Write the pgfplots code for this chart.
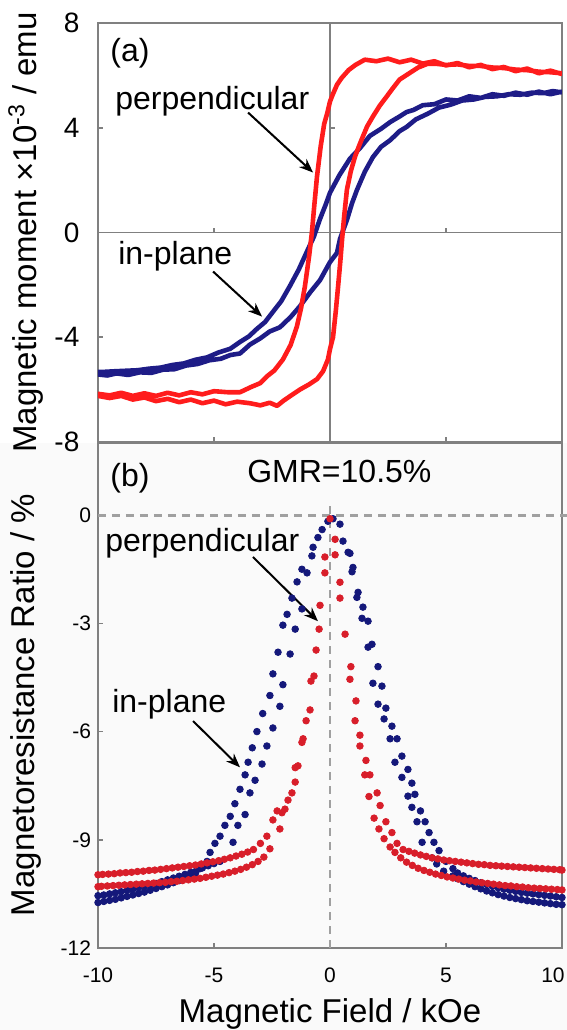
\documentclass[border=0pt]{standalone}
\usepackage{pgfplots}
\pgfplotsset{compat=1.18}
\usepackage{fontspec}
\setmainfont{Liberation Sans}
\usetikzlibrary{arrows.meta}

\definecolor{mred}{RGB}{255,28,28}
\definecolor{mblue}{RGB}{30,28,135}
\definecolor{rred}{RGB}{216,30,42}
\definecolor{rblue}{RGB}{20,24,122}
\definecolor{framegray}{RGB}{128,128,128}
\definecolor{dashgray}{RGB}{160,160,160}

\newcommand{\annfont}{\fontsize{16}{18}\selectfont}
\newcommand{\labfont}{\fontsize{16.5}{18}\selectfont}

\tikzset{
  callout/.style={black, line width=1pt, -{Stealth[length=7pt,width=5.5pt]}},
  ann/.style={inner sep=0pt, anchor=base west, font=\annfont},
  zeroline/.style={framegray, line width=0.8pt},
}

\begin{document}
\begin{tikzpicture}[x=1pt,y=1pt]
\useasboundingbox (0,0) rectangle (283.5,515);
% light background under the lower panel
\fill[black!2] (0,0) rectangle (283.5,293.5);

% ---------------- (a) magnetisation loops ----------------
\begin{axis}[
  at={(49pt,294pt)}, anchor=south west,
  width=232pt, height=209.5pt, scale only axis,
  xmin=-10, xmax=10, ymin=-8, ymax=8,
  axis line style={framegray, line width=0.8pt},
  xtick={-5,5}, xticklabels={},
  ytick={-8,-4,0,4,8},
  xtick pos=left, ytick pos=left,
  tick align=inside, major tick length=2.5pt,
  tick style={framegray, line width=0.8pt},
  /pgf/number format/assume math mode=true,
  yticklabel style={font=\fontsize{14}{16}\selectfont, xshift=-5.8pt},
  ylabel={Magnetic moment \texttimes10\textsuperscript{-3} / emu},
  ylabel style={at={(axis description cs:-0.155,0.5)}, anchor=center, font=\labfont},
]
% axes through the origin, with their own short ticks
\draw[zeroline] (axis cs:0,-8) -- (axis cs:0,8);
\draw[zeroline] (axis cs:-10,0) -- (axis cs:10,0);
\draw[zeroline] (axis cs:-5,0) -- (axis cs:-5,0.19);
\draw[zeroline] (axis cs:5,0) -- (axis cs:5,0.19);
\draw[zeroline] (axis cs:0,-4) -- (axis cs:0.215,-4);
\draw[zeroline] (axis cs:0,4) -- (axis cs:0.215,4);

% in-plane loop
\addplot[mblue, line width=2.3pt, line join=round, mark=none] table {
10.0 5.38
9.5 5.28
9.0 5.38
8.5 5.26
8.0 5.34
7.5 5.22
7.0 5.28
6.5 5.14
6.0 5.20
5.5 5.04
5.0 5.08
4.5 4.90
4.0 4.86
3.6 4.68
3.3 4.60
3.0 4.43
2.6 4.22
2.2 3.96
1.72 3.69
1.3 3.23
0.86 2.82
0.4 2.18
0.0 1.52
-0.2 1.03
-0.43 0.52
-0.7 -0.17
-1.0 -0.74
-1.35 -1.42
-1.72 -2.03
-2.1 -2.62
-2.46 -3.03
-2.8 -3.42
-3.15 -3.68
-3.5 -3.97
-3.88 -4.18
-4.3 -4.44
-4.8 -4.58
-5.3 -4.77
-5.8 -4.86
-6.3 -5.00
-6.8 -5.06
-7.3 -5.16
-7.8 -5.20
-8.3 -5.26
-8.8 -5.28
-9.3 -5.30
-9.7 -5.32
-10.0 -5.32
-10.0 -5.42
-9.6 -5.46
-9.2 -5.38
-8.7 -5.44
-8.2 -5.34
-7.7 -5.36
-7.2 -5.24
-6.7 -5.22
-6.2 -5.08
-5.7 -5.02
-5.2 -4.88
-4.7 -4.82
-4.3 -4.68
-3.88 -4.62
-3.45 -4.28
-3.0 -4.04
-2.6 -3.78
-2.16 -3.62
-1.7 -3.23
-1.3 -2.82
-0.85 -2.28
-0.43 -1.82
0.0 -1.13
0.3 -0.78
0.43 -0.25
0.73 0.48
0.95 1.12
1.16 1.62
1.5 2.32
1.85 2.88
2.2 3.27
2.6 3.53
3.0 3.87
3.3 4.03
3.7 4.32
4.2 4.53
4.7 4.77
5.2 4.88
5.7 5.04
6.2 5.08
6.7 5.18
7.2 5.20
7.7 5.28
8.2 5.26
8.7 5.34
9.2 5.32
9.6 5.40
10.0 5.35
};

% perpendicular loop
\addplot[mred, line width=2.3pt, line join=round, mark=none] table {
10.0 6.05
9.5 6.18
9.0 6.08
8.5 6.26
8.0 6.16
7.5 6.32
7.0 6.24
6.5 6.40
6.0 6.31
5.5 6.47
5.0 6.38
4.5 6.54
4.0 6.45
3.5 6.60
3.0 6.50
2.5 6.64
2.0 6.54
1.5 6.60
1.1 6.40
0.8 6.20
0.5 5.90
0.3 5.64
0.1 5.23
0.0 5.00
-0.12 4.55
-0.25 4.15
-0.4 3.30
-0.56 2.14
-0.68 1.00
-0.78 0.00
-0.9 -0.90
-1.08 -2.05
-1.25 -2.90
-1.43 -3.60
-1.7 -4.30
-2.03 -4.85
-2.4 -5.27
-2.7 -5.48
-3.0 -5.75
-3.4 -5.90
-3.88 -6.10
-4.4 -6.10
-5.0 -6.06
-5.5 -6.18
-6.0 -6.10
-6.5 -6.22
-7.0 -6.12
-7.5 -6.24
-8.0 -6.14
-8.5 -6.24
-9.0 -6.12
-9.5 -6.22
-10.0 -6.16
-10.0 -6.24
-9.5 -6.32
-9.0 -6.24
-8.5 -6.38
-8.0 -6.30
-7.5 -6.44
-7.0 -6.35
-6.5 -6.48
-6.0 -6.38
-5.5 -6.52
-5.0 -6.42
-4.5 -6.56
-4.0 -6.46
-3.45 -6.52
-3.0 -6.60
-2.6 -6.50
-2.28 -6.62
-2.0 -6.42
-1.72 -6.25
-1.3 -6.00
-0.9 -5.80
-0.56 -5.60
-0.3 -5.30
-0.09 -4.85
0.0 -4.45
0.13 -4.00
0.25 -3.00
0.35 -2.05
0.45 -1.05
0.52 -0.27
0.62 0.70
0.73 1.64
0.9 2.35
1.08 2.90
1.25 3.30
1.42 3.67
1.6 4.05
1.85 4.43
2.15 4.85
2.45 5.20
2.7 5.50
3.0 5.84
3.45 6.10
3.8 6.30
4.2 6.44
4.6 6.44
5.0 6.40
5.5 6.42
6.0 6.36
6.5 6.36
7.0 6.30
7.5 6.28
8.0 6.22
8.5 6.20
9.0 6.14
9.5 6.12
10.0 6.08
};

\node[ann] at (axis cs:-9.48,6.53) {(a)};
\node[ann] at (axis cs:-9.27,4.70) {perpendicular};
\draw[callout] (axis cs:-3.53,4.58) -- (axis cs:-0.73,2.29);
\node[ann] at (axis cs:-9.14,-1.22) {in-plane};
\draw[callout] (axis cs:-5.04,-1.49) -- (axis cs:-2.93,-3.21);
\end{axis}

% ---------------- (b) magnetoresistance ----------------
\begin{axis}[
  at={(49pt,41pt)}, anchor=south west,
  width=232pt, height=252.5pt, scale only axis,
  clip=false,
  xmin=-10, xmax=10, ymin=-12, ymax=2,
  axis line style={framegray, line width=0.8pt},
  xtick={-10,-5,0,5},
  extra x ticks={10},
  extra x tick style={xticklabel style={xshift=-4.5pt}},
  ytick={-12,-9,-6,-3,0},
  xtick pos=left, ytick pos=left,
  tick align=inside, major tick length=2.5pt,
  tick style={framegray, line width=0.8pt},
  /pgf/number format/assume math mode=true,
  ticklabel style={font=\fontsize{10.5}{12}\selectfont},
  xticklabel style={anchor=base, yshift=-17pt},
  xlabel={Magnetic Field / kOe},
  xlabel style={at={(axis description cs:0.5,0)}, anchor=base, yshift=-37pt, font=\labfont},
  ylabel={Magnetoresistance Ratio / \%},
  ylabel style={at={(axis description cs:-0.155,0.481)}, anchor=center, font=\labfont},
]
\draw[dashgray, line width=1.4pt, dash pattern=on 4pt off 3pt] (axis cs:-10,0) -- (axis cs:10.45,0);
\draw[dashgray, line width=1.4pt, dash pattern=on 4pt off 3pt] (axis cs:0,-12) -- (axis cs:0,0.3);

% in-plane
\addplot[only marks, mark=*, mark size=1.65pt, rblue, mark options={draw=rblue, fill=rblue}] table {
0.13 -0.10
-0.09 -0.17
0.43 -0.25
-0.34 -0.40
-0.52 -0.62
-0.73 -0.89
0.56 -0.72
0.78 -1.03
-0.78 -1.13
0.86 -1.06
-1.21 -1.50
0.99 -1.45
-0.99 -1.60
0.95 -1.57
-1.42 -1.85
1.21 -2.14
1.16 -2.28
-1.64 -2.30
1.42 -2.55
-1.21 -2.60
-1.85 -2.75
1.38 -2.86
1.64 -2.94
-2.03 -3.05
-1.50 -3.16
1.81 -3.58
1.64 -3.66
-2.24 -3.80
-1.72 -3.85
2.07 -4.20
-2.46 -4.40
1.85 -4.66
-2.03 -4.70
2.24 -4.74
-2.59 -5.00
2.07 -5.24
-2.16 -5.30
2.41 -5.35
-2.90 -5.50
2.33 -5.65
2.67 -5.85
-2.46 -5.90
-3.15 -6.00
2.59 -6.20
2.89 -6.20
-2.72 -6.40
-3.35 -6.45
3.10 -6.68
-3.53 -6.85
2.80 -6.85
-2.93 -6.90
3.36 -7.05
-3.66 -7.20
3.10 -7.27
-3.23 -7.35
3.53 -7.43
-3.88 -7.60
-3.45 -7.70
3.66 -7.74
3.36 -7.79
-4.10 -8.00
3.53 -8.10
3.90 -8.20
-3.66 -8.30
-4.30 -8.35
3.75 -8.50
4.10 -8.50
-4.53 -8.60
-3.97 -8.60
4.27 -8.80
-4.74 -8.90
3.97 -9.07
4.48 -9.07
-4.18 -9.07
-4.96 -9.10
4.70 -9.30
-5.17 -9.35
4.40 -9.50
-4.74 -9.60
-5.30 -9.60
4.60 -9.67
5.00 -9.60
5.30 -9.80
4.90 -9.87
-5.60 -9.80
5.30 -10.00
-10.0 -10.55
-9.75 -10.53
-9.5 -10.50
-9.25 -10.47
-9.0 -10.44
-8.75 -10.40
-8.5 -10.37
-8.25 -10.33
-8.0 -10.29
-7.75 -10.25
-7.5 -10.21
-7.25 -10.16
-7.0 -10.11
-6.75 -10.06
-6.5 -10.01
-6.25 -9.96
-6.0 -9.90
-5.75 -9.84
-5.5 -9.78
-5.25 -9.72
-5.0 -9.66
-10.0 -10.74
-9.75 -10.71
-9.5 -10.68
-9.25 -10.65
-9.0 -10.61
-8.75 -10.57
-8.5 -10.53
-8.25 -10.49
-8.0 -10.45
-7.75 -10.40
-7.5 -10.35
-7.25 -10.30
-7.0 -10.25
-6.75 -10.19
-6.5 -10.13
-6.25 -10.07
-6.0 -10.00
-5.8 -9.93
5.5 -9.92
5.75 -10.00
6.0 -10.07
6.25 -10.13
6.5 -10.19
6.75 -10.24
7.0 -10.29
7.25 -10.33
7.5 -10.37
7.75 -10.40
8.0 -10.43
8.25 -10.46
8.5 -10.48
8.75 -10.50
9.0 -10.52
9.25 -10.54
9.5 -10.56
9.75 -10.58
10.0 -10.60
5.5 -10.08
5.75 -10.16
6.0 -10.23
6.25 -10.30
6.5 -10.36
6.75 -10.42
7.0 -10.47
7.25 -10.52
7.5 -10.56
7.75 -10.60
8.0 -10.63
8.25 -10.66
8.5 -10.69
8.75 -10.71
9.0 -10.73
9.25 -10.75
9.5 -10.77
9.75 -10.79
10.0 -10.80
};

% perpendicular
\addplot[only marks, mark=*, mark size=1.65pt, rred, mark options={draw=rred, fill=rred}] table {
0.00 -0.10
0.22 -0.67
-0.22 -1.16
0.22 -1.10
-0.22 -1.60
0.43 -1.86
-0.43 -2.50
0.43 -2.30
-0.47 -3.16
0.65 -3.30
-0.60 -3.74
0.90 -4.20
-0.69 -4.46
0.86 -4.55
-0.82 -4.60
-0.86 -5.40
1.12 -5.15
-1.03 -5.70
1.08 -5.70
-1.16 -6.20
1.29 -6.10
-1.21 -6.30
1.29 -6.40
-1.38 -6.95
1.55 -6.80
-1.50 -7.00
1.50 -7.20
1.72 -7.20
-1.50 -7.40
-1.64 -7.70
1.68 -7.80
2.03 -7.70
-1.81 -7.90
-1.94 -8.15
2.16 -8.05
-2.07 -8.25
-2.28 -8.20
1.90 -8.40
-2.46 -8.45
2.41 -8.50
-2.16 -8.70
2.11 -8.70
2.67 -8.80
-2.72 -8.90
2.33 -8.97
-3.00 -9.10
2.89 -9.10
-2.59 -9.25
2.59 -9.20
-3.30 -9.27
3.15 -9.27
2.80 -9.35
-3.55 -9.34
-3.8 -9.40
-4.05 -9.45
-4.3 -9.50
-4.55 -9.54
-4.8 -9.58
-5.05 -9.61
-5.3 -9.64
-5.55 -9.67
-5.8 -9.70
-6.05 -9.72
-6.3 -9.74
-6.55 -9.76
-6.8 -9.78
-7.05 -9.80
-7.3 -9.82
-7.55 -9.84
-7.8 -9.85
-8.05 -9.87
-8.3 -9.88
-8.55 -9.90
-8.8 -9.91
-9.05 -9.92
-9.3 -9.94
-9.55 -9.95
-9.8 -9.96
-10.0 -9.97
-2.85 -9.48
-3.1 -9.60
-3.35 -9.69
-3.6 -9.76
-3.85 -9.82
-4.1 -9.87
-4.35 -9.91
-4.6 -9.95
-4.85 -9.98
-5.1 -10.01
-5.35 -10.04
-5.6 -10.07
-5.85 -10.09
-6.1 -10.11
-6.35 -10.13
-6.6 -10.15
-6.85 -10.16
-7.1 -10.18
-7.35 -10.19
-7.6 -10.20
-7.85 -10.21
-8.1 -10.22
-8.35 -10.23
-8.6 -10.24
-8.85 -10.25
-9.1 -10.26
-9.35 -10.27
-9.6 -10.28
-9.85 -10.29
-10.0 -10.30
3.4 -9.32
3.65 -9.37
3.9 -9.42
4.15 -9.46
4.4 -9.50
4.65 -9.53
4.9 -9.56
5.15 -9.58
5.4 -9.60
5.65 -9.62
5.9 -9.64
6.15 -9.66
6.4 -9.68
6.65 -9.69
6.9 -9.71
7.15 -9.72
7.4 -9.73
7.65 -9.74
7.9 -9.75
8.15 -9.76
8.4 -9.77
8.65 -9.78
8.9 -9.79
9.15 -9.80
9.4 -9.81
9.65 -9.82
9.9 -9.83
10.0 -9.84
3.05 -9.50
3.3 -9.62
3.55 -9.71
3.8 -9.79
4.05 -9.85
4.3 -9.90
4.55 -9.95
4.8 -9.99
5.05 -10.03
5.3 -10.06
5.55 -10.09
5.8 -10.12
6.05 -10.14
6.3 -10.17
6.55 -10.19
6.8 -10.21
7.05 -10.23
7.3 -10.25
7.55 -10.27
7.8 -10.28
8.05 -10.30
8.3 -10.31
8.55 -10.33
8.8 -10.34
9.05 -10.35
9.3 -10.36
9.55 -10.37
9.8 -10.38
10.0 -10.39
};

\node[ann] at (axis cs:-9.48,0.80) {(b)};
\node[ann] at (axis cs:-3.58,0.91) {GMR=10.5\%};
\node[ann] at (axis cs:-9.70,-1.00) {perpendicular};
\draw[callout] (axis cs:-3.32,-1.16) -- (axis cs:-0.52,-2.94);
\node[ann] at (axis cs:-9.40,-5.46) {in-plane};
\draw[callout] (axis cs:-5.90,-5.71) -- (axis cs:-3.88,-6.99);
\end{axis}
\end{tikzpicture}
\end{document}
